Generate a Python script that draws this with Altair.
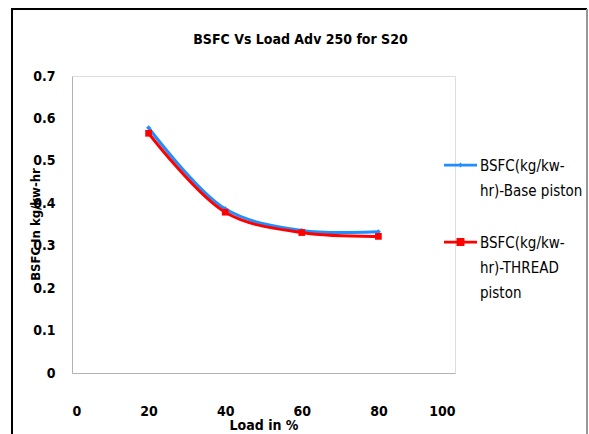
import altair as alt
import pandas as pd

load = [20, 40, 60, 80]
base_piston = [0.578, 0.387, 0.336, 0.333]
thread_piston = [0.565, 0.379, 0.331, 0.322]
series_names = ["BSFC(kg/kw-hr)-Base piston", "BSFC(kg/kw-hr)-THREAD piston"]
colors = ["#1F8FFF", "#FF0000"]
x_ticks = [0, 20, 40, 60, 80, 100]
y_ticks = [0, 0.1, 0.2, 0.3, 0.4, 0.5, 0.6, 0.7]

rows = []
for i, s in enumerate(series_names):
    vals = base_piston if i == 0 else thread_piston
    for x, v in zip(load, vals):
        rows.append({"Load": x, "BSFC": v, "Series": s, "order": i})
df = pd.DataFrame(rows)

FONT = "'DejaVu Sans Condensed', 'Liberation Sans Narrow', 'Liberation Sans', sans-serif"

color_scale = alt.Scale(domain=series_names, range=colors)

# legend symbols: line + marker, shifted up to sit on the first label line
legend_paths = [
    "M-1,-0.41H1V-0.25H-1ZM0,-0.48L0.15,-0.33L0,-0.18L-0.15,-0.33Z",
    "M-1,-0.41H1V-0.25H-1ZM-0.24,-0.57H0.24V-0.09H-0.24Z",
]

legend = alt.Legend(
    title=None,
    orient="none",
    legendX=372,
    legendY=78,
    padding=0,
    rowPadding=32,
    symbolSize=1089,
    symbolOpacity=1,
    symbolStrokeWidth=0,
    labelFont=FONT,
    labelFontSize=15,
    labelColor="#000000",
    labelOffset=3,
    labelBaseline="alphabetic",
    labelLimit=300,
    labelExpr=(
        "datum.label == 'BSFC(kg/kw-hr)-Base piston' ? ['BSFC(kg/kw-', 'hr)-Base piston'] : "
        "['BSFC(kg/kw-', 'hr)-THREAD', 'piston']"
    ),
)

xenc = alt.X(
    "Load:Q",
    scale=alt.Scale(domain=[0, 100]),
    axis=alt.Axis(
        values=x_ticks,
        title="Load in %",
        grid=False,
        ticks=False,
        domainColor="#b3b3b3",
        labelFont=FONT,
        labelFontSize=14,
        labelFontWeight="bold",
        labelColor="#000000",
        labelPadding=31,
        labelBaseline="top",
        titleFont=FONT,
        titleFontSize=14,
        titleFontWeight="bold",
        titleColor="#000000",
        titleBaseline="alphabetic",
        titleY=56,
    ),
)
yenc = alt.Y(
    "BSFC:Q",
    scale=alt.Scale(domain=[0, 0.7]),
    axis=alt.Axis(
        values=y_ticks,
        title="BSFC In kg/kw-hr",
        grid=False,
        ticks=False,
        domainColor="#b3b3b3",
        labelFont=FONT,
        labelFontSize=14,
        labelFontWeight="bold",
        labelColor="#000000",
        labelPadding=17,
        labelExpr="datum.value == 0 ? '0' : format(datum.value, '.1f')",
        titleFont=FONT,
        titleFontSize=13,
        titleFontWeight="bold",
        titleColor="#000000",
        titleAngle=-90,
        titleBaseline="alphabetic",
        titleAlign="center",
        titleX=-33,
        titleY=148,
    ),
)

lines = alt.Chart(df).mark_line(interpolate="catmull-rom", strokeWidth=3).encode(
    x=xenc,
    y=yenc,
    color=alt.Color("Series:N", scale=color_scale, legend=None),
    detail="Series:N",
    order="order:Q",
)

points = alt.Chart(df).mark_point(filled=True, opacity=1).encode(
    x="Load:Q",
    y="BSFC:Q",
    color=alt.Color("Series:N", scale=color_scale, legend=None),
    shape=alt.Shape("Series:N", scale=alt.Scale(domain=series_names, range=["diamond", "square"]), legend=None),
    size=alt.Size("Series:N", scale=alt.Scale(domain=series_names, range=[25, 45]), legend=None),
)

legend_layer = alt.Chart(df).mark_point(filled=True, opacity=0).encode(
    x="Load:Q",
    y="BSFC:Q",
    color=alt.Color("Series:N", scale=color_scale, legend=legend),
    shape=alt.Shape("Series:N", scale=alt.Scale(domain=series_names, range=legend_paths), legend=legend),
)

frame_left = alt.Chart(df).mark_rule(color="#000000", strokeWidth=2).encode(
    x=alt.value(-60), y=alt.value(-67), y2=alt.value(370)
)
frame_top = alt.Chart(df).mark_rule(color="#000000", strokeWidth=2).encode(
    x=alt.value(-61), x2=alt.value(515), y=alt.value(-67)
)
frame_right = alt.Chart(df).mark_rule(color="#999999", strokeWidth=1.5).encode(
    x=alt.value(515), y=alt.value(-67), y2=alt.value(370)
)

chart = (
    alt.layer(lines, points, legend_layer, frame_left, frame_top, frame_right)
    .resolve_scale(color="independent", shape="independent", size="independent")
    .properties(
        width=383,
        height=297,
        title=alt.TitleParams(
            "BSFC Vs Load Adv 250 for S20",
            font=FONT,
            fontSize=14,
            fontWeight="bold",
            color="#000000",
            anchor="middle",
            dx=37,
            dy=50,
            offset=0,
            baseline="alphabetic",
        ),
        autosize=alt.AutoSizeParams(type="none"),
        padding={"left": 72, "top": 76, "right": 134, "bottom": 61},
    )
    .configure_view(stroke=None)
    .configure(background="#ffffff", style={"guide-label": {"lineHeight": 25}})
)

chart.save("out.html", embed_options={"renderer": "svg", "actions": False})
